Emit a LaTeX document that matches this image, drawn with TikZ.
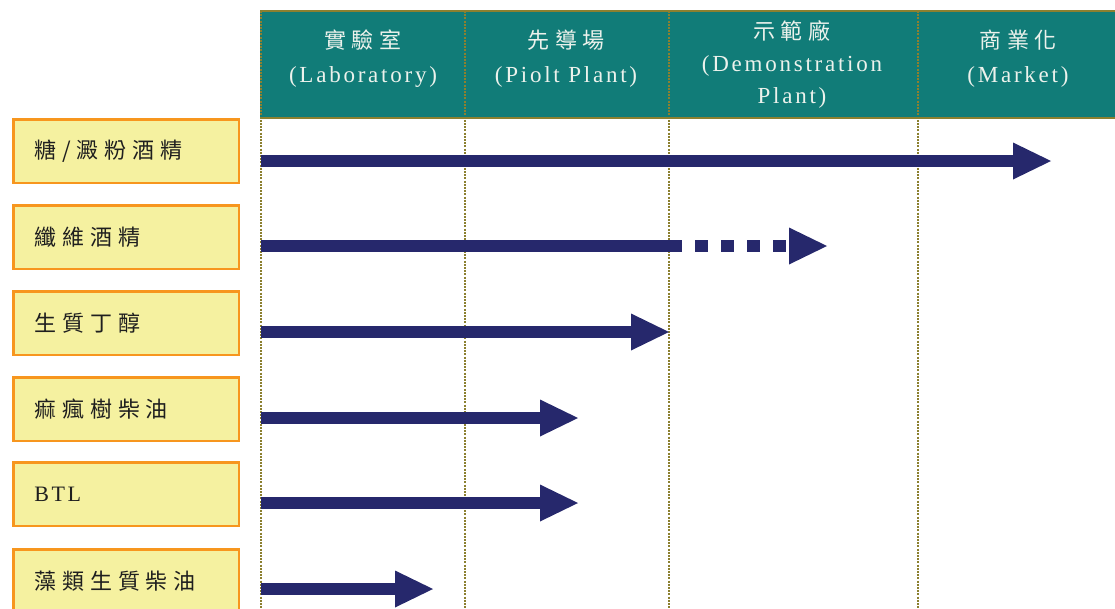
\documentclass[tikz,border=0pt]{standalone}
\usepackage{fontspec}
\setmainfont{Liberation Serif}
\newfontfamily\spacedlatin[LetterSpace=12]{Liberation Serif}
\newfontfamily\hanzi[LetterSpace=27]{Noto Sans CJK TC}
\usetikzlibrary{arrows.meta}

\definecolor{headteal}{RGB}{17,124,120}
\definecolor{ruleolive}{RGB}{140,128,48}
\definecolor{headtext}{RGB}{236,242,236}
\definecolor{boxfill}{RGB}{245,241,160}
\definecolor{boxedge}{RGB}{247,150,30}
\definecolor{navy}{RGB}{38,40,108}

% text faces for the titles and labels
\newcommand\zh[1]{{\hanzi\fontsize{22}{34}\selectfont #1}}
\newcommand\lat[1]{{\spacedlatin\fontsize{23}{34}\selectfont #1}}

\tikzset{
  headtitle/.style={text=headtext, align=center,
    font=\fontsize{23}{34}\selectfont, inner sep=0pt},
  labelbox/.style={draw=boxedge, fill=boxfill, line width=2.5pt,
    anchor=north west, minimum width=225.5pt, minimum height=63.5pt,
    inner xsep=20.75pt, text width=184pt, align=left, text=black!88,
    font=\fontsize{22}{26}\selectfont},
  gridline/.style={draw=ruleolive, line width=1.6pt,
    dash pattern=on 2pt off 1.2pt},
  shaft/.style={draw=navy, line width=11.5pt},
  bigarrow/.style={shaft,
    -{Triangle[length=38pt,width=37pt,line width=0pt]}},
  brokenarrow/.style={bigarrow, dash pattern=on 13pt off 13pt}
}

\begin{document}
\begin{tikzpicture}[x=1pt,y=-1pt]
\useasboundingbox (0,0) rectangle (1115,608);

% header band
\fill[headteal] (260,11) rectangle (1115,118);
\draw[ruleolive, line width=2.5pt] (260,11) -- (1115,11);
\draw[ruleolive, line width=2.5pt] (260,118) -- (1115,118);

% column separators
\foreach \cx in {261,465,669,918}
  \draw[gridline] (\cx,11) -- (\cx,608);

% column titles
\node[headtitle] (h1) at (363,59) {\zh{實驗室}\\\lat{(Laboratory)}};
\node[headtitle] (h2) at (566,59) {\zh{先導場}\\\lat{(Piolt Plant)}};
\node[headtitle, font=\fontsize{23}{32}\selectfont] (h3) at (792,64)
  {\zh{示範廠}\\\lat{(Demonstration}\\\lat{Plant)}};
\node[headtitle] (h4) at (1018,59) {\zh{商業化}\\\lat{(Market)}};

% row labels
\node[labelbox] (b1) at (12.25,118.25) {\hanzi 糖/澱粉酒精};
\node[labelbox] (b2) at (12.25,204.25) {\hanzi 纖維酒精};
\node[labelbox] (b3) at (12.25,290.25) {\hanzi 生質丁醇};
\node[labelbox] (b4) at (12.25,376.25) {\hanzi 痲瘋樹柴油};
\node[labelbox] (b5) at (12.25,461.25) {\spacedlatin BTL};
\node[labelbox] (b6) at (12.25,548.25) {\hanzi 藻類生質柴油};

% arrow end points
\coordinate (s1) at (261,161);  \coordinate (e1) at (1051,161);
\coordinate (s2) at (261,246);  \coordinate (m2) at (669,246);
\coordinate (e2) at (827,246);
\coordinate (s3) at (261,332);  \coordinate (e3) at (669,332);
\coordinate (s4) at (261,418);  \coordinate (e4) at (578,418);
\coordinate (s5) at (261,503);  \coordinate (e5) at (578,503);
\coordinate (s6) at (261,589);  \coordinate (e6) at (433,589);

% progress arrows
\draw[bigarrow] (s1) -- (e1);
\draw[shaft] (s2) -- (m2);
\draw[brokenarrow] (m2) -- (e2);
\draw[bigarrow] (s3) -- (e3);
\draw[bigarrow] (s4) -- (e4);
\draw[bigarrow] (s5) -- (e5);
\draw[bigarrow] (s6) -- (e6);
\end{tikzpicture}
\end{document}
